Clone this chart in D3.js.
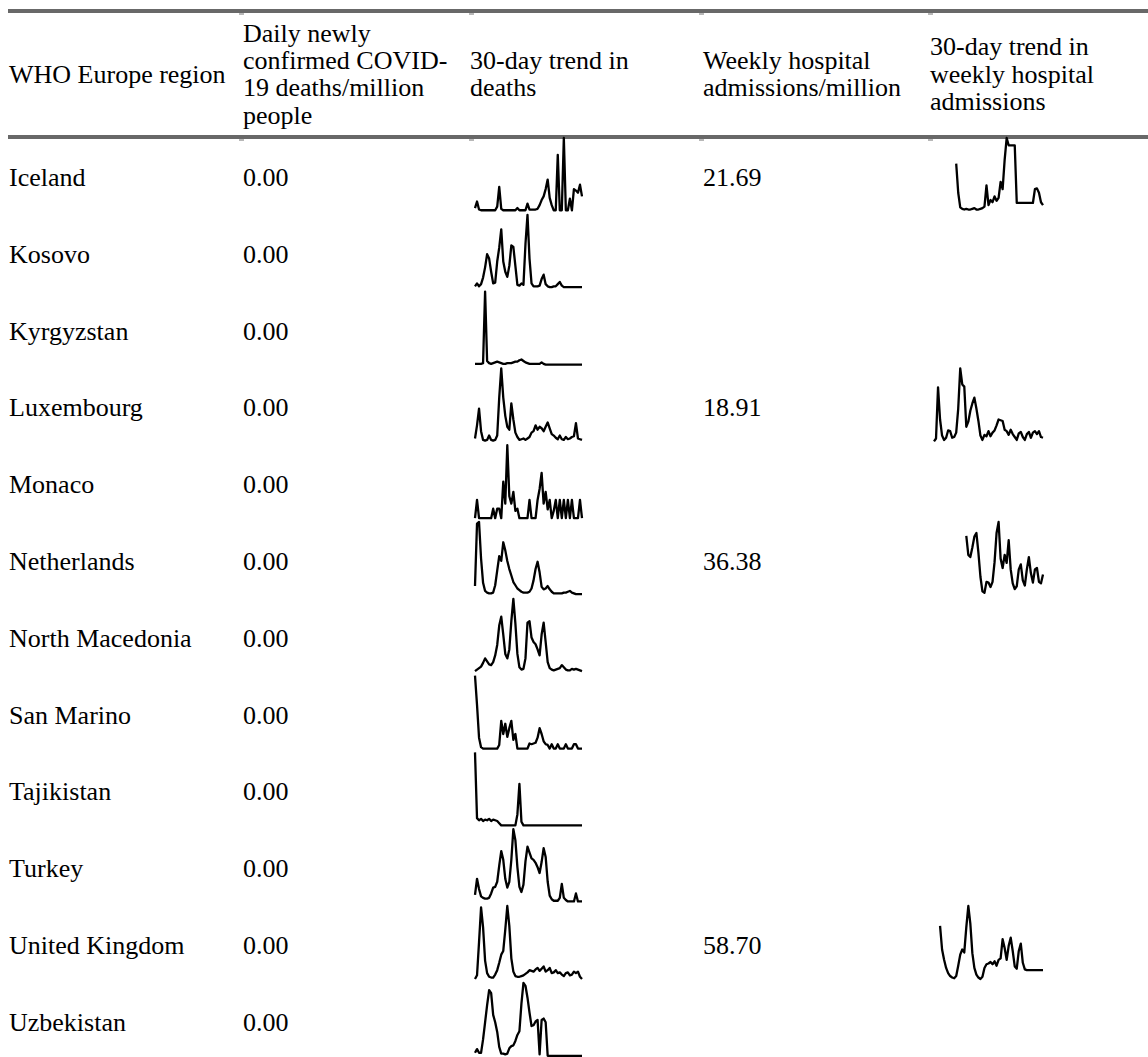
<!DOCTYPE html>
<html><head><meta charset="utf-8">
<script src="https://cdn.jsdelivr.net/npm/d3@7"></script>
<style>html,body{margin:0;padding:0;background:#fff;} svg{display:block} text{font-family:'Liberation Serif','Times New Roman',Times,serif;}</style>
</head><body>
<svg id="chart" width="1148" height="1057"></svg>
<script>
// ---------- DATA ----------
const headers = [
  ["WHO Europe region"],
  ["Daily newly", "confirmed COVID-", "19 deaths/million", "people"],
  ["30-day trend in", "deaths"],
  ["Weekly hospital", "admissions/million"],
  ["30-day trend in", "weekly hospital", "admissions"]
];
const countries = ["Iceland","Kosovo","Kyrgyzstan","Luxembourg","Monaco","Netherlands","North Macedonia","San Marino","Tajikistan","Turkey","United Kingdom","Uzbekistan"];
const dailyDeaths = ["0.00","0.00","0.00","0.00","0.00","0.00","0.00","0.00","0.00","0.00","0.00","0.00"];
const weeklyHosp = ["21.69","","","18.91","","36.38","","","","","58.70",""];

// 30-day trend in deaths (relative daily values)
const deathsIceland = [4,13,2,1,1,1,1,1,1,1,1,6,33,3,1,1,1,1,1,1,1,4,1,1,1,1,10,2,2,2,2,3,8,15,20,30,43,18,8,1,1,77,1,1,100,1,1,17,1,30,28,25,36,20];
const deathsKosovo = [2,6,2,5,14,28,46,40,22,6,7,36,55,80,36,22,15,30,58,56,30,4,3,6,4,60,100,40,6,2,2,2,3,12,18,5,2,1,1,2,2,5,8,3,1,1,1,1,1,1,1,1,1,1];
const deathsKyrgyzstan = [1,1,1,1,2,100,5,2,1,2,3,4,3,2,1,1,2,2,2,3,4,4,6,7,5,3,2,1,1,1,1,1,1,3,1,0,0,0,0,0,0,0,0,0,0,0,0,0,0,0,0,0,0,0];
const deathsLuxembourg = [4,22,45,14,2,1,2,8,2,1,2,8,60,100,60,35,20,16,52,30,12,6,2,3,4,2,4,6,12,14,22,16,20,18,14,20,26,18,10,8,5,3,8,3,2,6,3,4,6,7,25,4,3,2];
const deathsMonaco = [0,25,0,0,0,0,0,0,0,13,0,13,13,0,50,20,100,30,20,36,10,13,0,0,0,0,0,25,0,0,0,25,40,62,20,36,12,25,0,10,25,0,25,0,25,0,25,0,25,0,0,0,25,0];
const deathsNetherlands = [11,88,90,45,15,5,3,2,2,3,12,30,48,42,65,55,42,32,24,16,12,8,6,4,3,3,3,4,8,18,32,41,28,10,7,8,11,7,4,2,2,2,2,2,3,3,4,5,3,2,1,1,1,1];
const deathsNorthMacedonia = [1,3,5,7,12,18,14,10,9,13,22,36,62,74,50,24,18,30,68,98,65,24,6,3,4,18,66,68,46,40,37,30,22,50,66,40,13,5,3,2,3,4,5,9,6,3,2,2,4,3,4,3,2,1];
const deathsSanMarino = [100,60,15,2,0,0,0,0,0,0,0,0,5,38,20,34,16,28,38,12,20,0,0,0,0,0,0,7,6,7,8,15,28,20,10,6,5,0,6,0,0,6,0,0,0,6,0,0,0,6,6,0,0,0];
const deathsTajikistan = [100,10,7,9,6,8,7,9,6,8,7,6,3,0,0,0,0,0,0,0,0,15,57,5,0,0,0,0,0,0,0,0,0,0,0,0,0,0,0,0,0,0,0,0,0,0,0,0,0,0,0,0,0,0];
const deathsTurkey = [10,32,18,8,6,5,5,6,12,20,21,28,50,70,58,32,20,28,58,100,85,48,21,14,24,56,76,68,60,58,54,48,40,55,74,62,28,9,4,2,2,2,6,25,6,3,1,1,1,1,12,1,1,1];
const deathsUnitedKingdom = [0,5,50,97,70,25,8,3,2,2,6,12,22,33,38,67,99,72,28,10,4,3,3,4,5,7,9,12,11,10,13,15,11,14,17,10,12,15,8,9,12,8,9,6,4,8,9,5,6,10,8,10,3,0];
const deathsUzbekistan = [4,9,4,4,22,45,68,88,84,55,45,32,12,3,3,2,3,10,13,14,20,28,33,70,98,94,78,58,40,41,46,48,2,48,50,45,0,0,0,0,0,0,0,0,0,0,0,0,0,0,0,0,0,0];

// 30-day trend in weekly hospital admissions (first reported day of each series)
const hospDays = 55;
const hospIceland = [65,25,5,3,2,3,2,2,3,4,2,2,3,4,6,35,8,15,12,20,14,18,40,30,70,100,90,90,90,90,11,11,11,11,11,11,11,11,11,30,31,25,12,8];
const hospLuxembourg = [0,4,74,30,8,2,5,15,14,5,6,12,45,100,78,75,20,27,42,52,60,45,28,8,2,9,7,14,7,12,15,22,30,29,28,16,14,9,16,10,6,2,11,13,6,2,10,13,5,12,14,10,14,6,5];
const hospNetherlands = [81,55,52,65,80,85,58,25,5,3,18,17,11,18,45,85,100,50,37,55,44,75,35,16,8,12,35,42,20,13,35,52,30,17,35,37,18,16,28];
const hospUnitedKingdom = [72,40,26,15,8,4,2,1,4,18,33,40,36,70,99,75,35,15,6,2,0,3,15,20,21,23,20,24,18,26,28,54,42,26,45,56,38,17,14,38,48,22,13,12,12,12,12,12,12,12,12,12];
const hospFirstDay = {"Iceland": 11, "Luxembourg": 0, "Netherlands": 16, "United Kingdom": 3};

const deathTrends = {
  "Iceland": deathsIceland, "Kosovo": deathsKosovo, "Kyrgyzstan": deathsKyrgyzstan,
  "Luxembourg": deathsLuxembourg, "Monaco": deathsMonaco, "Netherlands": deathsNetherlands,
  "North Macedonia": deathsNorthMacedonia, "San Marino": deathsSanMarino, "Tajikistan": deathsTajikistan,
  "Turkey": deathsTurkey, "United Kingdom": deathsUnitedKingdom, "Uzbekistan": deathsUzbekistan
};
const hospTrends = {
  "Iceland": hospIceland, "Luxembourg": hospLuxembourg,
  "Netherlands": hospNetherlands, "United Kingdom": hospUnitedKingdom
};

// ---------- DRAW ----------
const svg = d3.select("#chart");
const fs = 26;
const colX = [9, 243, 470, 703, 930];

// rules
[9, 135].forEach(y => {
  svg.append("rect").attr("x", 8).attr("y", y).attr("width", 1140).attr("height", 4).attr("fill", "#686868");
});
[13, 139].forEach(y => {
  [241, 471, 701, 930].forEach(x => {
    svg.append("rect").attr("x", x - 2).attr("y", y).attr("width", 5).attr("height", 2).attr("fill", "#b8b8b8");
  });
});

// header
const headTop = 13, headBottom = 135, lh = 27.3;
headers.forEach((lines, ci) => {
  const mid = (headTop + headBottom) / 2;
  const first = mid - (lines.length - 1) * lh / 2;
  const t = svg.append("text").attr("font-size", fs).attr("fill", "#000");
  lines.forEach((l, li) => {
    t.append("tspan").attr("x", colX[ci]).attr("y", first + li * lh).attr("dy", "0.33em").text(l);
  });
});

// rows
const rowY = d3.scaleBand().domain(countries).range([139, 139 + 76.8 * countries.length]).padding(0);
const rowH = rowY.bandwidth();

const rows = svg.append("g").selectAll("g").data(countries).join("g");
rows.append("text").attr("x", colX[0]).attr("y", d => rowY(d) + rowH / 2).attr("dy", "0.33em")
  .attr("font-size", fs).text(d => d);
rows.append("text").attr("x", colX[1]).attr("y", d => rowY(d) + rowH / 2).attr("dy", "0.33em")
  .attr("font-size", fs).text((d, i) => dailyDeaths[i]);
rows.append("text").attr("x", colX[3]).attr("y", d => rowY(d) + rowH / 2).attr("dy", "0.33em")
  .attr("font-size", fs).text((d, i) => weeklyHosp[i]);

// sparklines
const sparkH = 73;
const deathX = d3.scaleLinear().domain([0, 53]).range([475, 582]);
const hospX = d3.scaleLinear().domain([0, hospDays - 1]).range([934, 1043]);

countries.forEach(c => {
  const top = rowY(c) - 1;
  const vals = deathTrends[c];
  const y = d3.scaleLinear().domain([0, d3.max(vals)]).range([top + sparkH, top]);
  const line = d3.line().x((v, i) => deathX(i)).y(v => y(v));
  svg.append("path").attr("d", line(vals)).attr("fill", "none").attr("stroke", "#000")
    .attr("stroke-width", 2.3).attr("stroke-linejoin", "round");

  if (hospTrends[c]) {
    const hv = hospTrends[c];
    const off = hospFirstDay[c];
    const yh = d3.scaleLinear().domain([0, d3.max(hv)]).range([top + sparkH, top]);
    const lineH = d3.line().x((v, i) => hospX(i + off)).y(v => yh(v));
    svg.append("path").attr("d", lineH(hv)).attr("fill", "none").attr("stroke", "#000")
      .attr("stroke-width", 2.3).attr("stroke-linejoin", "round");
  }
});
</script>
</body></html>
